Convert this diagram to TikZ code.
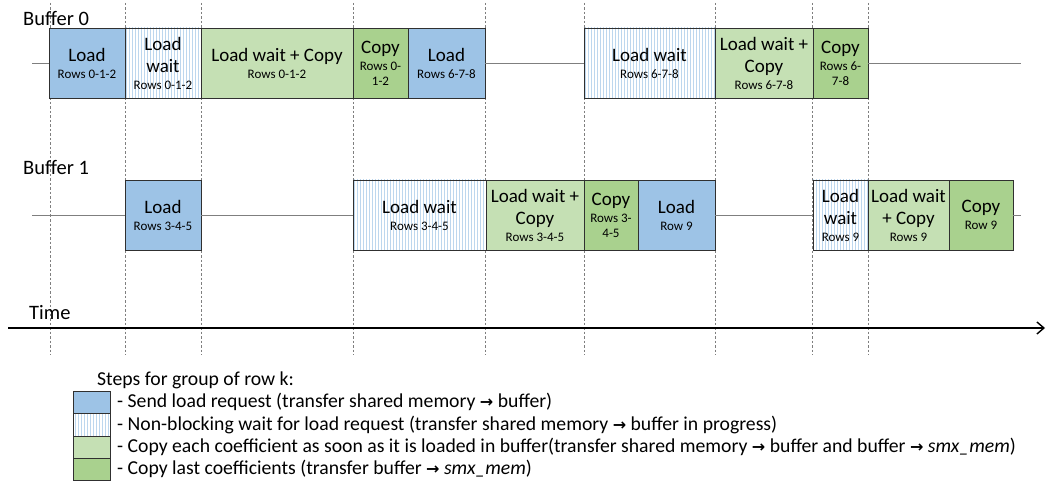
\documentclass[tikz,border=0pt]{standalone}
\usepackage{fontspec}
\setmainfont{Carlito}
\newfontfamily\arrowfont{DejaVu Sans Bold}
\usetikzlibrary{patterns,arrows.meta,fit}
\definecolor{loadblue}{HTML}{9DC3E6}
\definecolor{lightgreen}{HTML}{C5E0B4}
\definecolor{midgreen}{HTML}{A9D18E}
\definecolor{stripe}{HTML}{BDD7EE}
\definecolor{edge}{HTML}{303030}
\definecolor{guidegray}{HTML}{7F7F7F}
\definecolor{trackgray}{HTML}{7F7F7F}
\newcommand\bigf{\fontsize{19}{22}\selectfont}
\newcommand\smf{\fontsize{13}{15}\selectfont}
\newcommand\legf{\fontsize{19.7}{22}\selectfont}
\newcommand\ar{{\arrowfont\fontsize{16}{18}\selectfont →}}
\tikzset{
 box/.style={draw=edge, line width=0.8pt, inner sep=0pt, align=center, font=\bigf},
 ld/.style={box, fill=loadblue},
 wt/.style={box, preaction={fill=white}, pattern=vertical lines, pattern color=stripe},
 lc/.style={box, fill=lightgreen},
 cp/.style={box, fill=midgreen},
 r0/.style={minimum height=70pt},
 guide/.style={draw=guidegray, dash pattern=on 2.5pt off 2pt, line width=0.6pt},
 track/.style={draw=trackgray, line width=0.8pt},
 lab/.style={anchor=west, inner sep=0pt, font=\fontsize{20.5}{24}\selectfont},
 legtext/.style={anchor=west, inner sep=0pt, font=\legf},
 legbox/.style={draw=edge, line width=0.8pt, inner sep=0pt},
}
\begin{document}
\begin{tikzpicture}[x=1pt,y=-1pt]
\useasboundingbox[fill=white] (0,0) rectangle (1046,489);
% guides
\foreach \x in {50,125,201,353,485,584,715,812,868}
  \draw[guide] (\x,3) -- (\x,355);
% labels
\node[lab] (buf0) at (23,18) {Buffer 0};
\node[lab] (buf1) at (23,167) {Buffer 1};
\node[lab] (time) at (29,313) {Time};
% buffer 0
\node[ld, r0, minimum width=76pt] (b0a) at (87,63) {Load\\[-5pt]{\smf Rows 0-1-2}};
\node[wt, r0, minimum width=76pt] (b0b) at (163,63) {Load\\wait\\[-5pt]{\smf Rows 0-1-2}};
\node[lc, r0, minimum width=152pt] (b0c) at (277,63) {Load wait + Copy\\[-5pt]{\smf Rows 0-1-2}};
\node[cp, r0, minimum width=55pt] (b0d) at (380.5,63) {Copy\\[-5pt]{\smf Rows 0-}\\[-7pt]{\smf 1-2}};
\node[ld, r0, minimum width=77pt] (b0e) at (446.5,63) {Load\\[-5pt]{\smf Rows 6-7-8}};
\node[wt, r0, minimum width=131pt] (b0f) at (649.5,63) {Load wait\\[-5pt]{\smf Rows 6-7-8}};
\node[lc, r0, minimum width=98pt] (b0g) at (764,63) {Load wait +\\Copy\\[-5pt]{\smf Rows 6-7-8}};
\node[cp, r0, minimum width=55pt] (b0h) at (840.5,63) {Copy\\[-5pt]{\smf Rows 6-}\\[-7pt]{\smf 7-8}};
\coordinate (s0) at (32,63);
\coordinate (e0) at (1021,63);
\draw[track] (s0) -- (b0a.west);
\draw[track] (b0e.east) -- (b0f.west);
\draw[track] (b0h.east) -- (e0);
% buffer 1
\node[ld, r0, minimum width=76pt] (b1a) at (163,215) {Load\\[-5pt]{\smf Rows 3-4-5}};
\node[wt, r0, minimum width=133pt] (b1b) at (419.5,215) {Load wait\\[-5pt]{\smf Rows 3-4-5}};
\node[lc, r0, minimum width=98pt] (b1c) at (535,215) {Load wait +\\Copy\\[-5pt]{\smf Rows 3-4-5}};
\node[cp, r0, minimum width=54pt] (b1d) at (611,215) {Copy\\[-5pt]{\smf Rows 3-}\\[-7pt]{\smf 4-5}};
\node[ld, r0, minimum width=77pt] (b1e) at (676.5,215) {Load\\[-5pt]{\smf Row 9}};
\node[wt, r0, minimum width=55pt] (b1f) at (840.5,215) {Load\\wait\\[-5pt]{\smf Rows 9}};
\node[lc, r0, minimum width=81pt] (b1g) at (908.5,215) {Load wait\\+ Copy\\[-5pt]{\smf Rows 9}};
\node[cp, r0, minimum width=64pt] (b1h) at (981,215) {Copy\\[-5pt]{\smf Row 9}};
\coordinate (s1) at (32,215);
\coordinate (e1) at (1021,215);
\draw[track] (s1) -- (b1a.west);
\draw[track] (b1a.east) -- (b1b.west);
\draw[track] (b1e.east) -- (b1f.west);
\draw[track] (b1h.east) -- (e1);
% time axis
\coordinate (t0) at (8,328);
\coordinate (t1) at (1045,328);
\draw[line width=1.6pt, -{Straight Barb[length=7pt,width=12pt,line width=1.4pt]}] (t0) -- (t1);
% legend
\node[legtext] (legtitle) at (97,380) {Steps for group of row k:};
\node[legbox, fill=loadblue, fit={(73,391) (110,413)}] (lg1) {};
\node[legbox, preaction={fill=white}, pattern=vertical lines, pattern color=stripe, fit={(73,413) (110,436)}] (lg2) {};
\node[legbox, fill=lightgreen, fit={(73,436) (110,458)}] (lg3) {};
\node[legbox, fill=midgreen, fit={(73,458) (110,480)}] (lg4) {};
\node[legtext] (lt1) at (117,402) {- Send load request (transfer shared memory \ar{} buffer)};
\node[legtext] (lt2) at (117,424.5) {- Non-blocking wait for load request (transfer shared memory \ar{} buffer in progress)};
\node[legtext] (lt3) at (117,447) {- Copy each coefficient as soon as it is loaded in buffer(transfer shared memory \ar{} buffer and buffer \ar{} \textit{smx\_mem})};
\node[legtext] (lt4) at (117,469) {- Copy last coefficients (transfer buffer \ar{} \textit{smx\_mem})};
\end{tikzpicture}
\end{document}
